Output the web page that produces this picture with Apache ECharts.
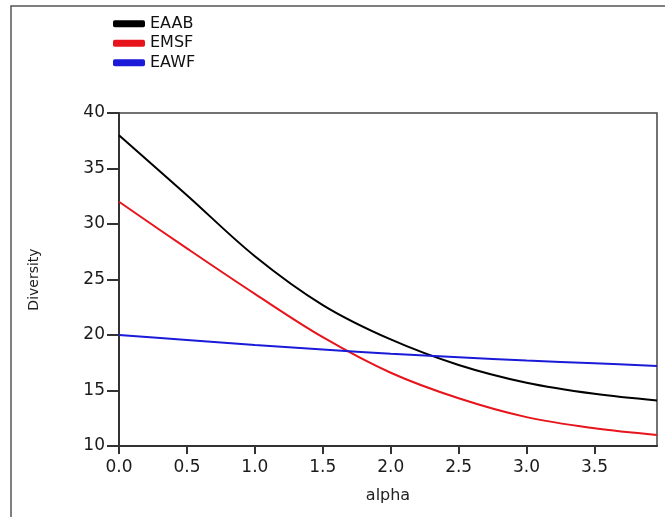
<!DOCTYPE html>
<html>
<head>
<meta charset="utf-8">
<script src="https://cdn.jsdelivr.net/npm/echarts@6/dist/echarts.min.js"></script>
<style>
  html, body { margin: 0; padding: 0; background: #fff; }
  #main { width: 665px; height: 517px; }
</style>
</head>
<body>
<div id="main"></div>
<script>
// values
var alpha = [0, 0.5, 1.0, 1.5, 2.0, 2.5, 3.0, 3.5, 3.96];
var eaab = [38, 32.6, 27.1, 22.7, 19.6, 17.3, 15.7, 14.7, 14.1];
var emsf = [32, 27.8, 23.7, 19.8, 16.6, 14.3, 12.6, 11.6, 11.0];
var eawf = [20, 19.55, 19.1, 18.7, 18.3, 18.0, 17.7, 17.45, 17.2];
var names = ['EAAB', 'EMSF', 'EAWF'];
var colors = ['#000000', '#e8141c', '#1a1ad8'];

function pairs(ys) {
  return alpha.map(function (a, i) { return [a, ys[i]]; });
}

var font = 'DejaVu Sans';
var myChart = echarts.init(document.getElementById('main'));

myChart.setOption({
  animation: false,
  textStyle: { fontFamily: font },
  graphic: [{
    type: 'rect',
    shape: { x: 11, y: 6, width: 700, height: 600 },
    style: { fill: 'none', stroke: '#555', lineWidth: 1.5 }
  }],
  legend: {
    orient: 'vertical',
    left: 113,
    top: 14,
    padding: 0,
    itemGap: 0,
    itemWidth: 32,
    itemHeight: 7,
    icon: 'roundRect',
    data: names,
    textStyle: { fontSize: 16, color: '#111', lineHeight: 19.5, fontFamily: font }
  },
  grid: {
    left: 119,
    top: 113,
    width: 538,
    height: 333,
    show: true,
    borderColor: '#444',
    borderWidth: 1.5
  },
  xAxis: {
    type: 'value',
    min: 0,
    max: 3.96,
    interval: 0.5,
    name: 'alpha',
    nameLocation: 'middle',
    nameGap: 42,
    nameTextStyle: { fontSize: 16, color: '#222', fontFamily: font },
    splitLine: { show: false },
    axisLine: { lineStyle: { color: '#333', width: 2 } },
    axisTick: { length: 8, lineStyle: { color: '#333', width: 2 } },
    axisLabel: {
      fontSize: 17,
      color: '#1a1a1a',
      margin: 13,
      showMaxLabel: false,
      formatter: function (v) { return v.toFixed(1); }
    }
  },
  yAxis: {
    type: 'value',
    min: 10,
    max: 40,
    interval: 5,
    name: 'Diversity',
    nameLocation: 'middle',
    nameGap: 78,
    nameTextStyle: { fontSize: 14, color: '#222', fontFamily: font },
    splitLine: { show: false },
    axisLine: { lineStyle: { color: '#333', width: 2 } },
    axisTick: { length: 12, lineStyle: { color: '#333', width: 2 } },
    axisLabel: { fontSize: 17, color: '#1a1a1a', margin: 14 }
  },
  series: [eaab, emsf, eawf].map(function (ys, i) {
    return {
      name: names[i],
      type: 'line',
      data: pairs(ys),
      smooth: 0.35,
      showSymbol: false,
      color: colors[i],
      lineStyle: { width: 2, color: colors[i] }
    };
  })
});
window.onresize = function () { myChart.resize(); };
</script>
</body>
</html>
